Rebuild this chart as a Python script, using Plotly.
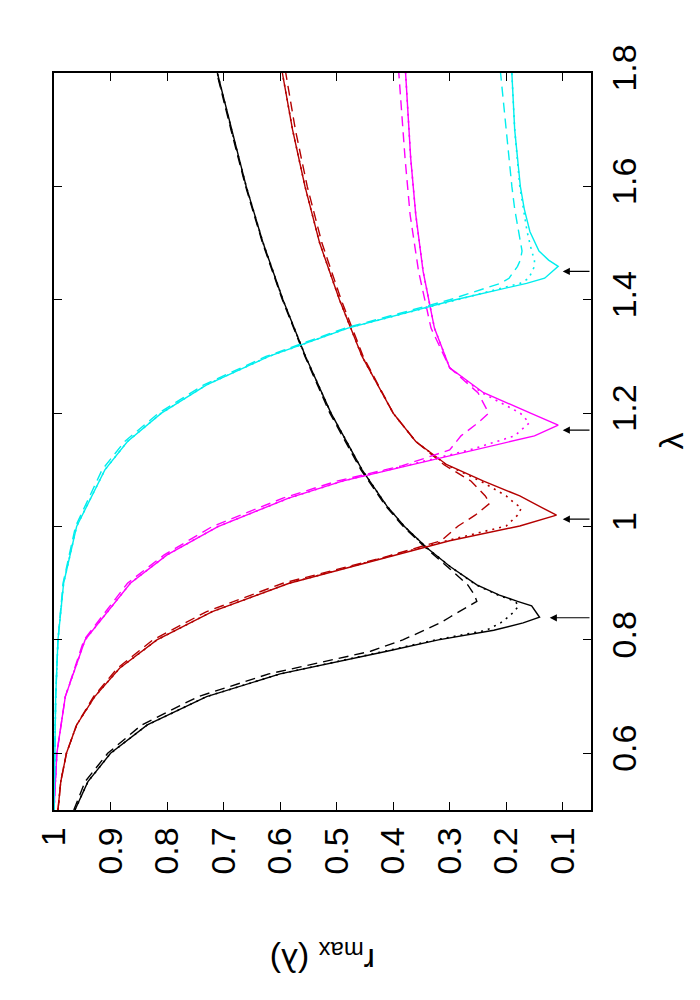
import plotly.graph_objects as go

# black group (lambda grid, then r_max for solid / dotted / dashed)
lam_black = [0.50, 0.55, 0.60, 0.65, 0.70, 0.74, 0.78, 0.80, 0.817, 0.83, 0.84, 0.85, 0.86, 0.868,
             0.879, 0.897, 0.93, 0.962, 1.00, 1.036, 1.10, 1.20, 1.30, 1.40, 1.50, 1.60, 1.70, 1.80]
r_black_solid = [0.963, 0.94, 0.90, 0.835, 0.73, 0.60, 0.411, 0.32, 0.222, 0.17, 0.141, 0.148, 0.155, 0.18,
                 0.212, 0.252, 0.30, 0.34, 0.38, 0.411, 0.455, 0.51, 0.555, 0.595, 0.63, 0.66, 0.686, 0.711]
r_black_dot = [0.963, 0.94, 0.90, 0.835, 0.73, 0.60, 0.415, 0.325, 0.235, 0.21, 0.197, 0.186, 0.178, 0.184,
               0.214, 0.253, 0.30, 0.34, 0.38, 0.411, 0.455, 0.51, 0.555, 0.595, 0.63, 0.66, 0.686, 0.711]
r_black_dash = [0.965, 0.945, 0.905, 0.845, 0.745, 0.62, 0.44, 0.383, 0.345, 0.317, 0.30, 0.283, 0.265, 0.252,
                0.256, 0.268, 0.305, 0.342, 0.382, 0.413, 0.457, 0.512, 0.556, 0.596, 0.631, 0.661, 0.687, 0.712]

# dark red group
lam_red = [0.50, 0.55, 0.60, 0.65, 0.70, 0.75, 0.80, 0.85, 0.90, 0.946, 0.975, 1.001, 1.02, 1.033,
           1.041, 1.054, 1.08, 1.109, 1.15, 1.20, 1.30, 1.40, 1.50, 1.60, 1.70, 1.80]
r_red_solid = [0.993, 0.988, 0.978, 0.96, 0.928, 0.884, 0.818, 0.72, 0.584, 0.411, 0.30, 0.176, 0.111, 0.136,
               0.151, 0.176, 0.240, 0.305, 0.36, 0.40, 0.455, 0.495, 0.53, 0.556, 0.578, 0.596]
r_red_dot = [0.993, 0.988, 0.978, 0.96, 0.928, 0.884, 0.818, 0.72, 0.584, 0.413, 0.305, 0.20, 0.18, 0.173,
             0.185, 0.20, 0.245, 0.306, 0.36, 0.40, 0.455, 0.495, 0.53, 0.556, 0.578, 0.596]
r_red_dash = [0.993, 0.988, 0.978, 0.96, 0.93, 0.888, 0.825, 0.73, 0.595, 0.415, 0.315, 0.285, 0.255, 0.238,
              0.229, 0.237, 0.262, 0.31, 0.36, 0.40, 0.453, 0.492, 0.526, 0.552, 0.573, 0.59]

# magenta group
lam_mag = [0.50, 0.60, 0.70, 0.80, 0.90, 0.95, 1.00, 1.05, 1.08, 1.107, 1.135, 1.16, 1.179, 1.183,
           1.20, 1.236, 1.28, 1.35, 1.45, 1.55, 1.65, 1.80]
r_mag_solid = [1.0, 0.995, 0.98, 0.945, 0.865, 0.80, 0.71, 0.585, 0.49, 0.376, 0.26, 0.150, 0.108, 0.118,
               0.157, 0.240, 0.30, 0.327, 0.347, 0.36, 0.369, 0.378]
r_mag_dot = [1.0, 0.995, 0.98, 0.945, 0.865, 0.80, 0.71, 0.585, 0.49, 0.378, 0.265, 0.185, 0.162, 0.159,
             0.175, 0.243, 0.30, 0.327, 0.347, 0.36, 0.369, 0.378]
r_mag_dash = [1.0, 0.995, 0.98, 0.947, 0.87, 0.805, 0.72, 0.595, 0.50, 0.385, 0.30, 0.28, 0.255, 0.25,
              0.231, 0.25, 0.30, 0.333, 0.355, 0.37, 0.379, 0.39]

# cyan group
lam_cyan = [0.50, 0.70, 0.80, 0.90, 1.00, 1.10, 1.15, 1.20, 1.25, 1.30, 1.35, 1.40, 1.429, 1.438,
            1.459, 1.47, 1.486, 1.52, 1.56, 1.60, 1.70, 1.80]
r_cyan_solid = [1.0, 0.997, 0.993, 0.983, 0.96, 0.91, 0.87, 0.81, 0.73, 0.62, 0.48, 0.29, 0.164, 0.132,
                0.108, 0.125, 0.142, 0.158, 0.168, 0.175, 0.185, 0.19]
r_cyan_dot = [1.0, 0.997, 0.993, 0.983, 0.96, 0.91, 0.87, 0.81, 0.73, 0.62, 0.48, 0.29, 0.175, 0.16,
              0.15, 0.15, 0.155, 0.163, 0.17, 0.176, 0.185, 0.19]
r_cyan_dash = [1.0, 0.997, 0.993, 0.984, 0.962, 0.915, 0.875, 0.815, 0.735, 0.625, 0.485, 0.30, 0.21, 0.195,
               0.18, 0.175, 0.172, 0.178, 0.185, 0.19, 0.20, 0.21]

# arrows marking the minima
arrow_lam = [0.839, 1.013, 1.170, 1.450]
arrow_r = [0.123, 0.10, 0.10, 0.10]

groups = [
    (lam_black, r_black_solid, r_black_dot, r_black_dash, "#000000"),
    (lam_red, r_red_solid, r_red_dot, r_red_dash, "#b40000"),
    (lam_mag, r_mag_solid, r_mag_dot, r_mag_dash, "#ff00ff"),
    (lam_cyan, r_cyan_solid, r_cyan_dot, r_cyan_dash, "#00eeee"),
]

fig = go.Figure()
for lam, rs, rd, rda, col in groups:
    fig.add_trace(go.Scatter(x=rda, y=lam, mode="lines",
                             line=dict(color=col, width=1.4, dash="10px,6px")))
    fig.add_trace(go.Scatter(x=rd, y=lam, mode="lines",
                             line=dict(color=col, width=1.6, dash="2px,5px")))
    fig.add_trace(go.Scatter(x=rs, y=lam, mode="lines",
                             line=dict(color=col, width=1.4)))

for lam, r in zip(arrow_lam, arrow_r):
    fig.add_annotation(x=r, y=lam, ax=0.05, ay=lam, xref="x", yref="y",
                       axref="x", ayref="y", text="", showarrow=True,
                       arrowhead=2, arrowsize=1.3, arrowwidth=1.1, arrowcolor="black")

font = dict(family="Liberation Sans, Arial, sans-serif", size=34, color="black")

fig.update_xaxes(range=[1.0, 0.05], tickvals=[1, 0.9, 0.8, 0.7, 0.6, 0.5, 0.4, 0.3, 0.2, 0.1],
                 ticktext=["1", "0.9", "0.8", "0.7", "0.6", "0.5", "0.4", "0.3", "0.2", "0.1"],
                 tickangle=-90, ticks="inside", ticklen=8, tickwidth=1.2, tickcolor="black",
                 showline=True, linecolor="black", linewidth=1.5, mirror="allticks",
                 showgrid=False, zeroline=False, tickfont=font, ticklabelstandoff=2)
fig.update_yaxes(range=[0.5, 1.8], side="right", tickvals=[0.6, 0.8, 1.0, 1.2, 1.4, 1.6, 1.8],
                 ticktext=["0.6", "0.8", "1", "1.2", "1.4", "1.6", "1.8"],
                 tickangle=-90, ticks="inside", ticklen=8, tickwidth=1.2, tickcolor="black",
                 showline=True, linecolor="black", linewidth=1.5, mirror="allticks",
                 showgrid=False, zeroline=False, tickfont=font, ticklabelstandoff=2)

# axis titles (rotated like the landscape page)
fig.add_annotation(text="λ", xref="paper", yref="paper", x=1.0, y=0.5, xshift=100,
                   showarrow=False, textangle=-90, font=font)
fig.add_annotation(text="r<sub>max</sub> (λ)", xref="paper", yref="paper", x=0.5, y=0.0,
                   yshift=-172, showarrow=False, textangle=180, font=font)

fig.update_layout(width=700, height=1000, showlegend=False,
                  plot_bgcolor="white", paper_bgcolor="white",
                  margin=dict(l=46, r=117, t=65, b=198))

fig.write_html("out.html")
